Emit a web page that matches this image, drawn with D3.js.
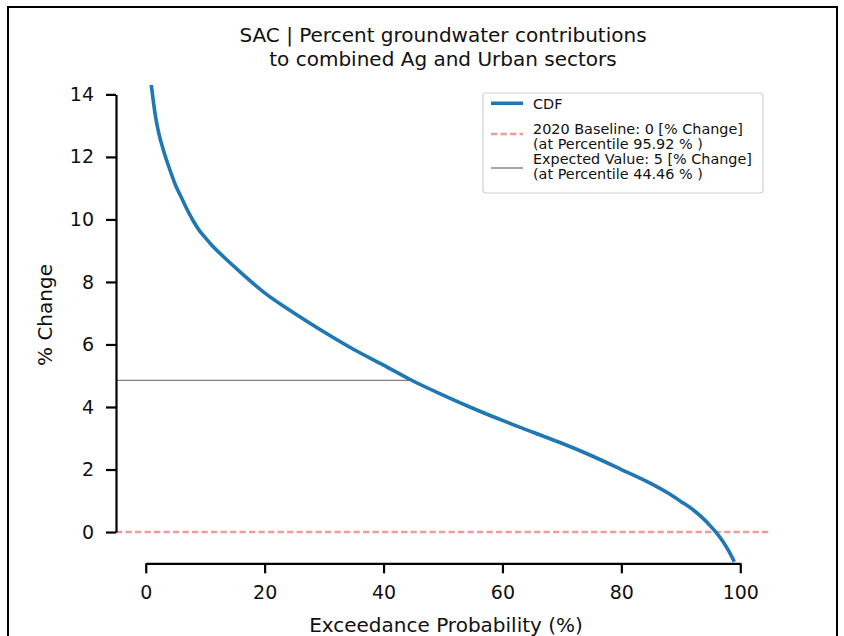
<!DOCTYPE html>
<html>
<head>
<meta charset="utf-8">
<script src="https://cdn.jsdelivr.net/npm/d3@7/dist/d3.min.js"></script>
<style>
  html, body { margin: 0; padding: 0; background: #fff; }
  svg { display: block; font-family: "DejaVu Sans", sans-serif; }
</style>
</head>
<body>
<svg id="chart" width="844" height="636"></svg>
<script>
// ---- data ----
const titleLines = ["SAC | Percent groundwater contributions", "to combined Ag and Urban sectors"];
const xLabel = "Exceedance Probability (%)";
const yLabel = "% Change";
const exceedance = [0.9, 1.2, 1.6, 2.2, 3, 4, 5, 6, 7, 8, 9, 10, 11, 13, 16, 20, 25, 30, 35, 40, 44.46, 50, 55, 60, 65, 70, 75, 80, 85, 88, 90, 92, 94, 95, 96, 97, 98, 99];
const pctChange  = [14.35, 13.9, 13.35, 12.75, 12.2, 11.62, 11.1, 10.7, 10.3, 9.95, 9.65, 9.42, 9.2, 8.82, 8.3, 7.65, 7.0, 6.4, 5.84, 5.34, 4.88, 4.38, 3.96, 3.57, 3.2, 2.84, 2.44, 2.0, 1.55, 1.23, 0.98, 0.72, 0.39, 0.19, -0.03, -0.28, -0.59, -0.95];
const baselineValue = 0;
const expectedValue = 4.85;
const expectedPercentile = 44.46;
const xTicks = [0, 20, 40, 60, 80, 100];
const yTicks = [0, 2, 4, 6, 8, 10, 12, 14];
const legendLabels = [
  ["CDF"],
  ["2020 Baseline: 0 [% Change]", "(at Percentile 95.92 % )"],
  ["Expected Value: 5 [% Change]", "(at Percentile 44.46 % )"]
];

// ---- layout ----
const svg = d3.select("#chart");
const W = 844, H = 636;
const plot = { left: 116, right: 770, top: 85, bottom: 563.3 };
const x = d3.scaleLinear().domain([-5, 105]).range([plot.left, plot.right]);
const y = d3.scaleLinear().domain([-1, 14.3]).range([plot.bottom, plot.top]);
const blue = "#1f77b4";
const pink = "#f09c9c";

svg.append("rect").attr("x", 0).attr("y", 0).attr("width", W).attr("height", H).attr("fill", "#fff");
// outer frame
svg.append("path").attr("d", `M8,${H} V7 H837 V${H}`).attr("fill", "none").attr("stroke", "#000").attr("stroke-width", 2);

// title
const title = svg.append("text").attr("text-anchor", "middle").attr("font-size", 20).attr("fill", "#111");
titleLines.forEach((t, i) => title.append("tspan").attr("x", 443).attr("y", 42 + i * 23.5).text(t));

svg.append("clipPath").attr("id", "clip").append("rect")
  .attr("x", plot.left).attr("y", plot.top).attr("width", plot.right - plot.left).attr("height", plot.bottom - plot.top + 2);

const g = svg.append("g").attr("clip-path", "url(#clip)");

// baseline dashed line
g.append("line")
  .attr("x1", x(-5)).attr("x2", x(105))
  .attr("y1", y(baselineValue)).attr("y2", y(baselineValue))
  .attr("stroke", pink).attr("stroke-width", 2.6).attr("stroke-dasharray", "6.3,3.2");

// expected value line
g.append("line")
  .attr("x1", x(-5)).attr("x2", x(expectedPercentile))
  .attr("y1", y(expectedValue)).attr("y2", y(expectedValue))
  .attr("stroke", "#808080").attr("stroke-width", 1.4);

// CDF curve
const pts = exceedance.map((e, i) => [e, pctChange[i]]);
g.append("path").datum(pts)
  .attr("d", d3.line().x(d => x(d[0])).y(d => y(d[1])).curve(d3.curveMonotoneX))
  .attr("fill", "none").attr("stroke", blue).attr("stroke-width", 3.6).attr("stroke-linecap", "butt");

// axes (trimmed spines)
const yAxisScale = y.copy().domain([0, 14]).range([y(0), y(14)]);
const yAxis = svg.append("g").attr("transform", `translate(${plot.left},0)`)
  .call(d3.axisLeft(yAxisScale).tickValues(yTicks).tickFormat(d3.format("d")).tickSize(10).tickSizeOuter(0).tickPadding(12));
const xAxisScale = x.copy().domain([0, 100]).range([x(0), x(100)]);
const xAxis = svg.append("g").attr("transform", `translate(0,${plot.bottom})`)
  .call(d3.axisBottom(xAxisScale).tickValues(xTicks).tickFormat(d3.format("d")).tickSize(10).tickSizeOuter(0).tickPadding(12));
[yAxis, xAxis].forEach(a => {
  a.select(".domain").attr("stroke", "#000").attr("stroke-width", 2.2);
  a.selectAll(".tick line").attr("stroke", "#000").attr("stroke-width", 2.2);
  a.selectAll(".tick text").attr("font-size", 19).attr("fill", "#111").attr("font-family", "DejaVu Sans, sans-serif");
});

// axis labels
svg.append("text").attr("x", 446).attr("y", 632).attr("text-anchor", "middle").attr("font-size", 20).attr("fill", "#111").text(xLabel);
svg.append("text").attr("transform", "translate(52,315) rotate(-90)").attr("text-anchor", "middle").attr("font-size", 20).attr("fill", "#111").text(yLabel);

// legend
const lg = svg.append("g");
lg.append("rect").attr("x", 483).attr("y", 93).attr("width", 280).attr("height", 100).attr("rx", 3)
  .attr("fill", "#fff").attr("stroke", "#d0d0d0").attr("stroke-width", 1.2);
const handleY = [103.3, 134, 168];
const handleStyles = [
  { stroke: blue, w: 3.6, dash: null },
  { stroke: pink, w: 2.6, dash: "6.3,3.2" },
  { stroke: "#808080", w: 1.4, dash: null }
];
handleStyles.forEach((s, i) => {
  lg.append("line").attr("x1", 491).attr("x2", 523).attr("y1", handleY[i]).attr("y2", handleY[i])
    .attr("stroke", s.stroke).attr("stroke-width", s.w).attr("stroke-dasharray", s.dash);
});
const textBaselines = [[108.5], [134, 149], [164, 179]];
legendLabels.forEach((lines, i) => {
  lines.forEach((t, j) => {
    lg.append("text").attr("x", 533).attr("y", textBaselines[i][j]).attr("font-size", 14.4).attr("fill", "#111").text(t);
  });
});
</script>
</body>
</html>
